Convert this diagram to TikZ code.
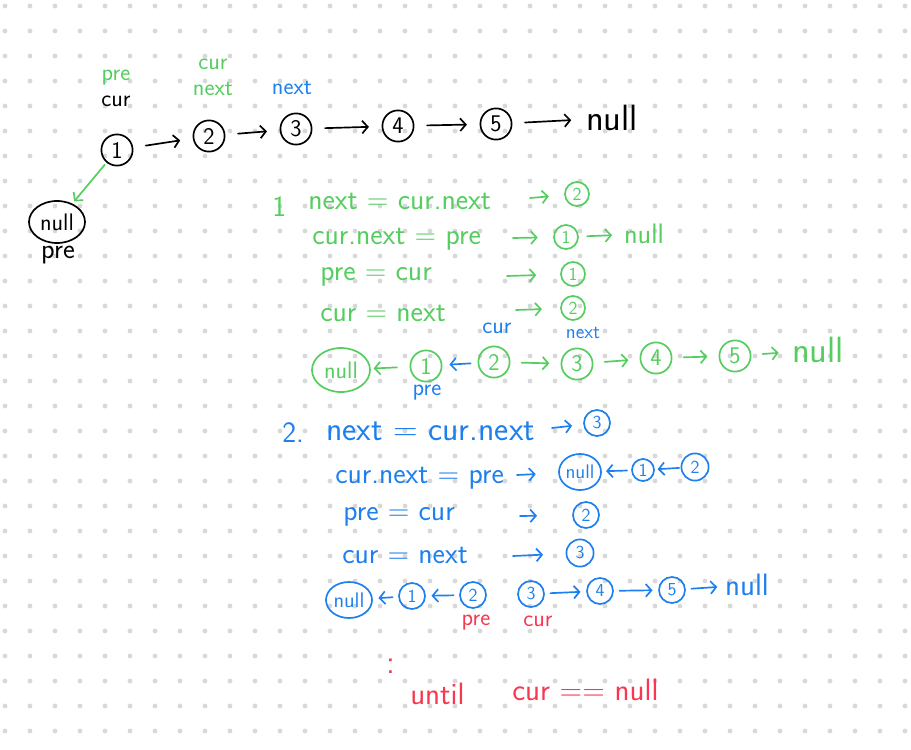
\documentclass[tikz,border=0pt]{standalone}
\usepackage{tikz}
\usetikzlibrary{arrows.meta}
\usetikzlibrary{shapes.geometric}

\definecolor{penG}{RGB}{86,205,96}
\definecolor{penB}{RGB}{30,128,238}
\definecolor{penR}{RGB}{248,56,80}
\definecolor{dotgray}{RGB}{216,216,216}

\begin{document}
\begin{tikzpicture}[x=0.025cm, y=-0.025cm, line width=1.2pt, line cap=round,
    every node/.style={font=\sffamily\fontsize{20}{22}\selectfont, inner sep=1pt},
    num/.style={circle, draw, minimum size=0.78cm, inner sep=0pt, font=\sffamily\fontsize{17}{18}\selectfont},
    numsm/.style={circle, draw, minimum size=0.6cm, inner sep=0pt, font=\sffamily\fontsize{13}{14}\selectfont},
    nil/.style={ellipse, draw, minimum width=1.4cm, minimum height=1.05cm, inner sep=0pt, font=\sffamily\fontsize{17}{18}\selectfont},
    tag/.style={font=\sffamily\fontsize{17}{18}\selectfont},
    eq/.style={anchor=west, font=\sffamily\fontsize{21}{24}\selectfont},
    arr/.style={-{Straight Barb[length=4pt, width=9pt]}, shorten >=9pt, shorten <=9pt},
    rarr/.style={-{Straight Barb[length=4pt, width=9pt]}}]

    \useasboundingbox (0,0) rectangle (911,749);
    \fill[white] (0,0) rectangle (911,749);

    % dotted paper
    \foreach \i in {0,...,36} {
      \foreach \j in {0,...,29} {
        \fill[dotgray] (5+25*\i, 6+25*\j) circle (1.7pt);
      }
    }

    % the list at the start
    \node[num] (t1) at (117,150) {1};
    \node[num] (t2) at (209,136) {2};
    \node[num] (t3) at (296,129) {3};
    \node[num] (t4) at (398,126) {4};
    \node[num] (t5) at (496,124) {5};
    \node[font=\sffamily\fontsize{26}{28}\selectfont] (tnull) at (612,118) {null};
    \foreach \a/\b in {t1/t2, t2/t3, t3/t4, t4/t5, t5/tnull} {
      \draw[arr] (\a) -- (\b);
    }

    \node[tag, text=penG] (lpre1) at (116,78) {pre};
    \node[tag] (lcur1) at (116,101) {cur};
    \node[tag, text=penG] (lcur2) at (213,64) {cur};
    \node[tag, text=penG] (lnext2) at (213,89) {next};
    \node[tag, text=penB] (lnext3) at (292,88) {next};

    \node[nil] (n0) at (57,222) {null};
    \node[tag, font=\sffamily\fontsize{20}{22}\selectfont] (lpre0) at (58,255) {pre};
    \draw[arr, penG, shorten <=2pt, shorten >=2pt] (t1) -- (n0);

    % step 1
    \begin{scope}[penG]
      \node[eq, text=penG] (g0) at (270,207) {1};
      \node[eq, text=penG] (g1) at (306,201) {next = cur.next};
      \node[numsm] (g1n) at (577,194) {2};
      \coordinate (g1a) at (530,198);
      \draw[rarr, shorten >=11pt] (g1a) -- (g1n);

      \node[eq, text=penG] (g2) at (310,239) {cur.next = pre};
      \node[numsm] (g2n) at (566,237) {1};
      \node[font=\sffamily\fontsize{20}{22}\selectfont, text=penG] (g2null) at (644,234) {null};
      \coordinate (g2a) at (513,238);
      \draw[rarr, shorten >=11pt] (g2a) -- (g2n);
      \draw[arr, shorten <=6pt, shorten >=7pt] (g2n) -- (g2null);

      \node[eq, text=penG] (g3) at (318,277) {pre = cur};
      \node[numsm] (g3n) at (573,274) {1};
      \coordinate (g3a) at (507,276);
      \draw[rarr, shorten >=17pt] (g3a) -- (g3n);

      \node[eq, text=penG] (g4) at (318,313) {cur = next};
      \node[numsm] (g4n) at (573,308) {2};
      \coordinate (g4a) at (516,310);
      \draw[rarr, shorten >=13pt] (g4a) -- (g4n);

      \node[nil, minimum width=1.45cm, minimum height=1.1cm] (gnil) at (341,370) {null};
      \node[num] (gc1) at (426,366) {1};
      \node[num] (gc2) at (494,362) {2};
      \node[num] (gc3) at (577,364) {3};
      \node[num] (gc4) at (656,358) {4};
      \node[num] (gc5) at (735,356) {5};
      \node[font=\sffamily\fontsize{26}{28}\selectfont, text=penG] (gnull) at (818,350) {null};
      \draw[arr, shorten >=2pt] (gc1) -- (gnil);
      \draw[arr, penB, shorten <=5pt, shorten >=5pt] (gc2) -- (gc1);
      \foreach \a/\b in {gc2/gc3, gc3/gc4, gc4/gc5, gc5/gnull} {
        \draw[arr, shorten <=8pt, shorten >=8pt] (\a) -- (\b);
      }
    \end{scope}
    \node[tag, text=penB] (gcur) at (497,328) {cur};
    \node[tag, text=penB, font=\sffamily\fontsize{14}{15}\selectfont] (gnext) at (583,333) {next};
    \node[tag, text=penB] (gpre) at (427,393) {pre};

    % step 2
    \begin{scope}[penB]
      \node[eq, text=penB] (b0) at (280,433) {2.};
      \node[eq, text=penB, font=\sffamily\fontsize{24}{26}\selectfont] (b1) at (324,431) {next = cur.next};
      \node[numsm, minimum size=0.65cm] (b1n) at (597,423) {3};
      \coordinate (b1a) at (552,428);
      \draw[rarr, shorten >=8pt] (b1a) -- (b1n);

      \node[eq, text=penB] (b2) at (333,478) {cur.next = pre};
      \node[nil, minimum width=1.05cm, minimum height=0.9cm, font=\sffamily\fontsize{14}{15}\selectfont] (b2nil) at (580,472) {null};
      \node[numsm, minimum size=0.55cm] (b2c1) at (643,470) {1};
      \node[numsm, minimum size=0.68cm] (b2c2) at (695,467) {2};
      \coordinate (b2a) at (517,475);
      \draw[rarr, shorten >=16pt] (b2a) -- (b2nil);
      \draw[arr, shorten <=3pt, shorten >=3pt] (b2c1) -- (b2nil);
      \draw[arr, shorten <=1pt, shorten >=2pt] (b2c2) -- (b2c1);

      \node[eq, text=penB] (b3) at (341,517) {pre = cur};
      \node[numsm, minimum size=0.65cm] (b3n) at (586,515) {2};
      \coordinate (b3a) at (520,516);
      \draw[rarr, shorten >=25pt] (b3a) -- (b3n);

      \node[eq, text=penB] (b4) at (340,555) {cur = next};
      \node[numsm, minimum size=0.68cm] (b4n) at (580,553) {3};
      \coordinate (b4a) at (513,556);
      \draw[rarr, shorten >=16pt] (b4a) -- (b4n);

      \node[nil, minimum width=1.15cm, minimum height=0.9cm, font=\sffamily\fontsize{15}{16}\selectfont] (bnil) at (349,600) {null};
      \node[numsm, minimum size=0.65cm] (bc1) at (412,596) {1};
      \node[numsm, minimum size=0.65cm] (bc2) at (473,595) {2};
      \node[numsm, minimum size=0.65cm] (bc3) at (531,594) {3};
      \node[numsm, minimum size=0.65cm] (bc4) at (600,591) {4};
      \node[numsm, minimum size=0.65cm] (bc5) at (672,590) {5};
      \node[font=\sffamily\fontsize{22}{24}\selectfont, text=penB] (bnull) at (747,585) {null};
      \foreach \a/\b in {bc1/bnil, bc2/bc1, bc3/bc4, bc4/bc5, bc5/bnull} {
        \draw[arr, shorten <=4pt, shorten >=4pt] (\a) -- (\b);
      }
    \end{scope}
    \node[tag, text=penR] (bpre) at (476,623) {pre};
    \node[tag, text=penR] (bcur) at (538,621) {cur};

    % and so on
    \node[text=penR, font=\sffamily\fontsize{24}{26}\selectfont] (rdots) at (391,666) {:};
    \node[eq, text=penR, font=\sffamily\fontsize{22}{24}\selectfont] (runtil) at (408,694) {until};
    \node[eq, text=penR, font=\sffamily\fontsize{22}{24}\selectfont] (rcond) at (510,690) {cur == null};

\end{tikzpicture}
\end{document}
